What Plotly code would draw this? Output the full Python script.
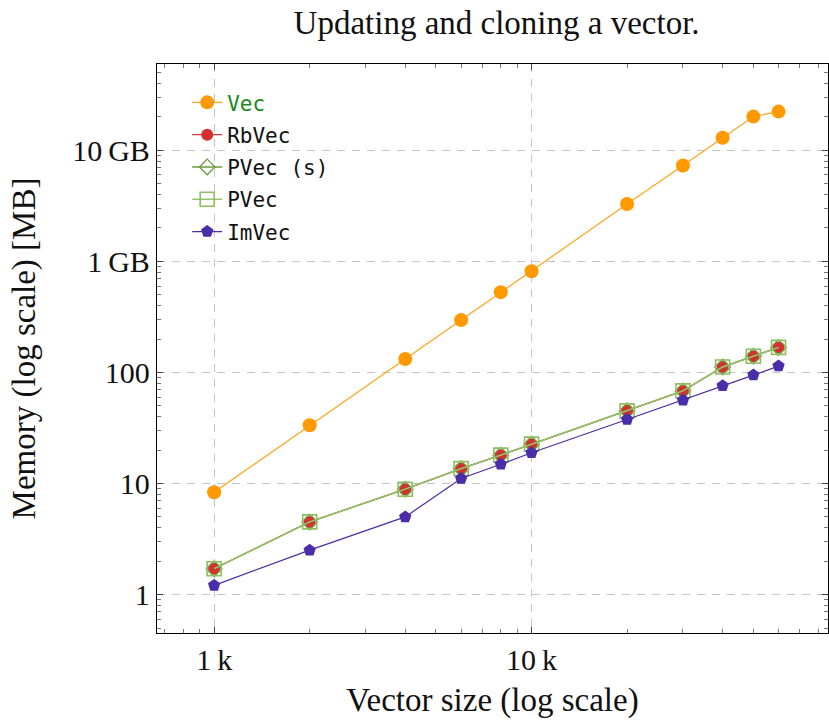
import plotly.graph_objects as go

# Vector sizes (number of elements)
sizes = [1000, 2000, 4000, 6000, 8000, 10000, 20000, 30000, 40000, 50000, 60000]

# Memory usage in MB per implementation
vec_mem = [8.35, 33.5, 132, 296, 528, 815, 3280, 7290, 12970, 20100, 22300]
rbvec_mem = [1.71, 4.51, 8.89, 13.6, 18.0, 22.6, 45.1, 68.2, 112, 140, 168]
pvec_s_mem = [1.71, 4.51, 8.89, 13.6, 18.0, 22.6, 45.1, 68.2, 112, 140, 168]
pvec_mem = [1.71, 4.51, 8.89, 13.6, 18.0, 22.6, 45.1, 68.2, 112, 140, 168]
imvec_mem = [1.21, 2.51, 5.0, 11.1, 14.9, 18.9, 37.7, 56.3, 75.7, 94.6, 114]

y_tickvals = [1, 10, 100, 1000, 10000]
y_ticktext = ["1", "10", "100", "1\u2009GB", "10\u2009GB"]
x_tickvals = [1000, 10000]
x_ticktext = ["1\u2009k", "10\u2009k"]

SERIF = "Liberation Serif"
MONO = "DejaVu Sans Mono"

series = [
    dict(name="<span style='color:#1a8a1a'>Vec</span>", y=vec_mem,
         line=dict(color="#FFA31A", width=1.2),
         marker=dict(symbol="circle", size=14, color="#FF9900",
                     line=dict(width=0))),
    dict(name="RbVec", y=rbvec_mem,
         line=dict(color="#D93636", width=1.2),
         marker=dict(symbol="circle", size=12, color="#D62F2F",
                     line=dict(width=0))),
    dict(name="PVec (s)", y=pvec_s_mem,
         line=dict(color="#6E9A3C", width=1.4),
         marker=dict(symbol="diamond-open", size=12, color="#6E9A3C",
                     line=dict(width=1.3))),
    dict(name="PVec", y=pvec_mem,
         line=dict(color="#96C46E", width=1.4),
         marker=dict(symbol="square-open", size=14, color="#8CBF62",
                     line=dict(width=1.6))),
    dict(name="ImVec", y=imvec_mem,
         line=dict(color="#4B2DA8", width=1.2),
         marker=dict(symbol="pentagon", size=13, color="#4B2DA8",
                     line=dict(width=0))),
]

fig = go.Figure()
for i, s in enumerate(series):
    fig.add_trace(go.Scatter(x=sizes, y=s["y"], name=s["name"],
                             legendgroup=f"g{i}",
                             mode="lines+markers",
                             line=s["line"], marker=s["marker"]))

axis_common = dict(
    type="log",
    showline=True, linecolor="black", linewidth=1.3, mirror="allticks",
    ticks="inside", ticklen=6, tickwidth=1, tickcolor="#444",
    showgrid=True, gridcolor="#C4C4C4", gridwidth=1.1, griddash="8px,7px",
    zeroline=False,
    minor=dict(ticks="inside", ticklen=4, tickwidth=1, tickcolor="#777",
               dtick="D1", showgrid=False),
    tickfont=dict(family=SERIF, size=30, color="#111"),
    title_font=dict(family=SERIF, size=33, color="#111"),
)

fig.update_xaxes(
    **axis_common,
    range=[2.82, 4.934],
    tickmode="array", tickvals=x_tickvals, ticktext=x_ticktext,
    title_text="Vector size (log scale)", title_standoff=12,
)
fig.update_yaxes(
    **axis_common,
    range=[-0.346, 4.777],
    tickmode="array", tickvals=y_tickvals, ticktext=y_ticktext,
    title_text="Memory (log scale) [MB]", title_standoff=26,
)

fig.update_layout(
    width=829, height=722,
    margin=dict(l=157, r=1, t=64, b=89),
    paper_bgcolor="white", plot_bgcolor="white",
    title=dict(text="Updating and cloning a vector.", x=0.599, xanchor="center",
               y=0.969, yanchor="middle",
               font=dict(family=SERIF, size=33, color="#111")),
    legend=dict(x=0.045, y=0.968, xanchor="left", yanchor="top",
                bgcolor="rgba(255,255,255,0)", borderwidth=0,
                font=dict(family=MONO, size=21, color="#111"),
                tracegroupgap=2),
    showlegend=True,
)

fig.write_html("out.html")
